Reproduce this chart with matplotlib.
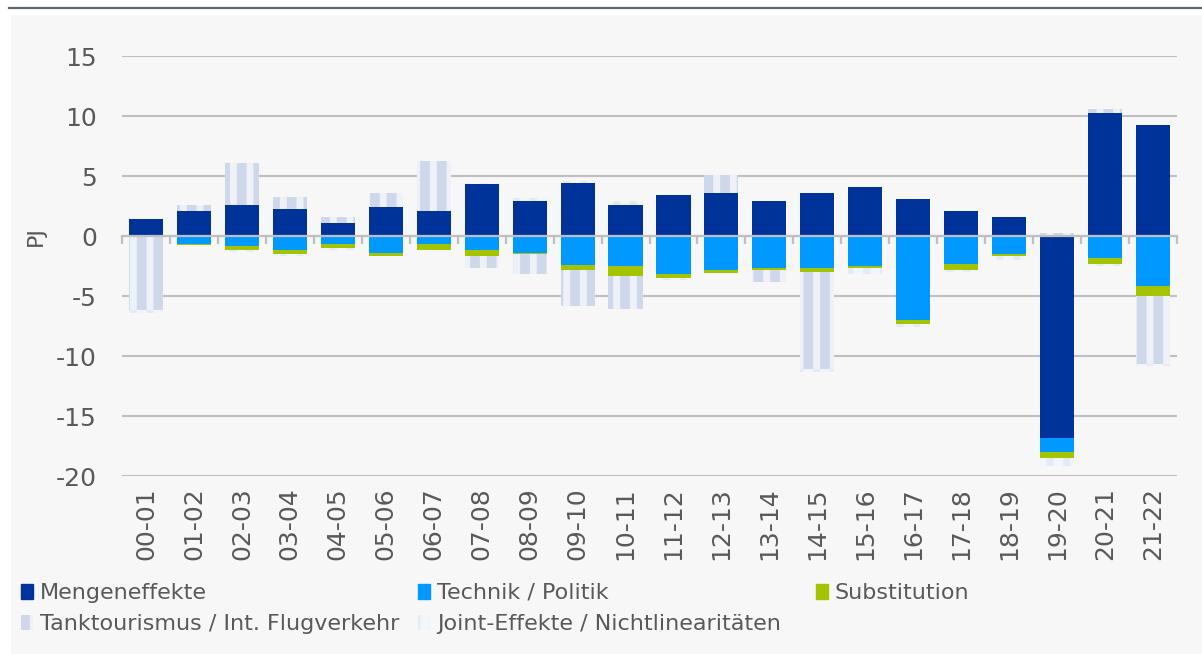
import matplotlib
matplotlib.use("Agg")
import matplotlib.pyplot as plt
from matplotlib.patches import Rectangle, Patch
from matplotlib.lines import Line2D
import numpy as np

plt.rcParams['font.family'] = ['DejaVu Sans']
plt.rcParams['hatch.linewidth'] = 7
plt.rcParams['axes.unicode_minus'] = False

cats = ['00-01', '01-02', '02-03', '03-04', '04-05', '05-06', '06-07', '07-08',
        '08-09', '09-10', '10-11', '11-12', '12-13', '13-14', '14-15', '15-16',
        '16-17', '17-18', '18-19', '19-20', '20-21', '21-22']

menge = [1.45, 2.1, 2.6, 2.25, 1.1, 2.45, 2.1, 4.3, 2.9, 4.4, 2.6,
         3.45, 3.6, 2.9, 3.6, 4.05, 3.1, 2.1, 1.6, -16.85, 10.25, 9.25]
technik = [0, -0.65, -0.85, -1.2, -0.7, -1.4, -0.7, -1.2, -1.4, -2.4, -2.5,
           -3.2, -2.85, -2.7, -2.7, -2.5, -7.0, -2.35, -1.5, -1.15, -1.85, -4.2]
subst = [0, -0.1, -0.35, -0.3, -0.3, -0.3, -0.5, -0.5, -0.1, -0.45, -0.85,
         -0.3, -0.2, -0.15, -0.3, -0.2, -0.35, -0.5, -0.2, -0.5, -0.5, -0.8]
tank = [-6.2, 0.5, 3.5, 1.0, 0.5, 1.15, 4.15, -1.0, -1.7, -3.0, -2.7,
        0, 1.5, -1.0, -8.1, 0, 0, 0, 0, 0.25, 0.3, -5.65]
joint = [-0.2, 0, -0.15, -0.15, -0.15, 0, 0, 0.1, 0.3, 0.15, 0.3,
         -0.2, 0, 0, -0.2, -0.5, -0.2, -0.15, -0.3, -0.65, -0.15, -0.2]

labels = ['Mengeneffekte', 'Technik / Politik', 'Substitution',
          'Tanktourismus / Int. Flugverkehr', 'Joint-Effekte / Nichtlinearitäten']

grey_txt = '#595959'
grid_c = '#bfbfbf'

fig = plt.figure(figsize=(12.02, 6.54), dpi=100)
fig.patches.append(Rectangle((11 / 1202, 0), 1, 1 - 15 / 654, transform=fig.transFigure,
                             facecolor='#f7f7f7', edgecolor='none', zorder=-10))
fig.lines.append(Line2D([9 / 1202, 1], [1 - 7.5 / 654] * 2, transform=fig.transFigure,
                        color='#5f6670', lw=1.6))

ax = fig.add_axes([122 / 1202, (654 - 476) / 654, 1055 / 1202, 420 / 654])
ax.set_facecolor('none')

x = np.arange(len(cats))
w = 0.71
pos = np.zeros(len(cats))
neg = np.zeros(len(cats))
styles = [
    dict(color='#003399'),
    dict(color='#0099ff'),
    dict(color='#a5c400'),
    dict(facecolor='#eef1f7', edgecolor='#cfd8ea', hatch='|', linewidth=0),
    dict(facecolor='#e3ebf6', edgecolor='#f2f5fa', hatch='|', linewidth=0),
]
handles = []
for vals, st, lab in zip([menge, technik, subst, tank, joint], styles, labels):
    v = np.array(vals)
    bottom = np.where(v >= 0, pos, neg)
    ax.bar(x, v, w, bottom=bottom, label=lab, **st)
    pos = pos + np.where(v > 0, v, 0)
    neg = neg + np.where(v < 0, v, 0)
    handles.append(Patch(**st))

ax.set_xlim(-0.5, len(cats) - 0.5)
ax.set_ylim(-20, 15)
ax.set_yticks([-20, -15, -10, -5, 0, 5, 10, 15])
ax.yaxis.grid(True, color=grid_c, lw=1.5)
ax.set_axisbelow(True)
ax.tick_params(axis='y', length=0, pad=18, labelsize=18, labelcolor=grey_txt)

for s in ['top', 'right', 'left']:
    ax.spines[s].set_visible(False)
ax.spines['bottom'].set_position(('data', 0))
ax.spines['bottom'].set_color(grid_c)
ax.spines['bottom'].set_linewidth(1.6)
ax.set_xticks([])
ax.set_xticks(np.arange(-0.5, len(cats)), minor=True)
ax.tick_params(axis='x', which='minor', length=6, width=1.6, color=grid_c,
               direction='out', labelbottom=False)

sec = ax.secondary_xaxis(0)
sec.set_xticks(x)
sec.set_xticklabels(cats, rotation=90)
sec.spines['bottom'].set_visible(False)
sec.tick_params(length=0, pad=8, labelsize=18, labelcolor=grey_txt)

ax.set_ylabel('PJ', fontsize=16, color=grey_txt)
ax.yaxis.set_label_coords(-0.072, 20 / 35)

# legend laid out in three columns like the original
cols = [(21, [0, 3]), (418, [1, 4]), (816, [2])]
for cx, idx in cols:
    lg = fig.legend([handles[i] for i in idx], [labels[i] for i in idx],
                    loc='upper left', bbox_to_anchor=(cx / 1202, 1 - 583 / 654),
                    frameon=False, fontsize=16, borderpad=0, borderaxespad=0,
                    handlelength=0.55, handleheight=0.65, handletextpad=0.3,
                    labelspacing=0.5, labelcolor=grey_txt)

fig.savefig('out.png', dpi=100)
